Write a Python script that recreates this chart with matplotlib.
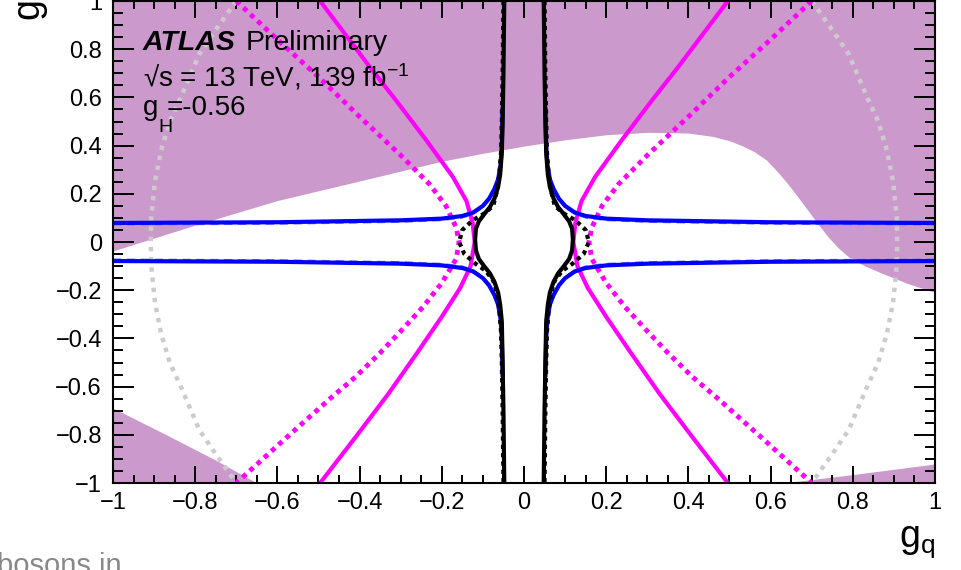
import numpy as np
import matplotlib
matplotlib.use('Agg')
import matplotlib.pyplot as plt

plt.rcParams['font.family'] = ['Liberation Sans', 'DejaVu Sans']
plt.rcParams['mathtext.fontset'] = 'custom'
plt.rcParams['mathtext.rm'] = 'Liberation Sans'
plt.rcParams['mathtext.it'] = 'Liberation Sans:italic'
plt.rcParams['mathtext.bf'] = 'Liberation Sans:bold'

# excluded region (upper band), boundary
excl_x = [-1.0, -0.8, -0.6, -0.42, -0.2, -0.1, 0.0, 0.1, 0.2, 0.3, 0.4, 0.46, 0.5, 0.53, 0.56, 0.59, 0.615, 0.64, 0.665, 0.69, 0.715, 0.74, 0.765, 0.79, 0.83, 0.87, 0.93, 1.0]
excl_y = [-0.037, 0.07, 0.172, 0.245, 0.335, 0.368, 0.398, 0.424, 0.445, 0.455, 0.452, 0.438, 0.42, 0.40, 0.375, 0.34, 0.295, 0.245, 0.19, 0.133, 0.075, 0.021, -0.025, -0.062, -0.10, -0.129, -0.17, -0.21]
# excluded corners at the bottom
ll_x = [-1.0, -0.87, -0.75, -0.65]
ll_y = [-0.689, -0.80, -0.905, -1.0]
lr_x = [0.63, 0.8, 1.0]
lr_y = [-1.0, -0.965, -0.921]

# magenta, left branch (right branch is its mirror)
mag_obs_x = [-0.496, -0.375, -0.312, -0.238, -0.173, -0.14, -0.125, -0.12, -0.13, -0.155, -0.20, -0.26, -0.33, -0.41, -0.496]
mag_obs_y = [1.0, 0.726, 0.589, 0.423, 0.27, 0.17, 0.08, 0.0, -0.1, -0.19, -0.31, -0.46, -0.63, -0.81, -1.0]
mag_exp_x = [-0.70, -0.60, -0.50, -0.40, -0.30, -0.23, -0.19, -0.165, -0.158, -0.165, -0.20, -0.246, -0.30, -0.35, -0.41, -0.472, -0.59, -0.70]
mag_exp_y = [1.0, 0.84, 0.685, 0.52, 0.36, 0.24, 0.15, 0.06, 0.0, -0.07, -0.17, -0.27, -0.37, -0.46, -0.56, -0.65, -0.83, -1.0]

# blue, upper-left branch (others mirrored)
blue_obs_x = [-1.0, -0.6, -0.3, -0.2, -0.15, -0.124, -0.1, -0.085, -0.072, -0.063, -0.057, -0.054, -0.052]
blue_obs_y = [0.079, 0.082, 0.09, 0.097, 0.108, 0.122, 0.15, 0.18, 0.22, 0.26, 0.32, 0.4, 0.55]
blue_exp_x = [-1.0, -0.6, -0.3, -0.2, -0.15, -0.124, -0.1, -0.085, -0.072, -0.063, -0.057, -0.054, -0.052]
blue_exp_y = [0.074, 0.077, 0.085, 0.092, 0.103, 0.118, 0.146, 0.177, 0.218, 0.26, 0.32, 0.4, 0.55]

# black, left branch
blk_obs_x = [-0.048, -0.05, -0.052, -0.054, -0.058, -0.063, -0.072, -0.083, -0.097, -0.11, -0.117, -0.119, -0.117, -0.11, -0.097, -0.083, -0.072, -0.063, -0.058, -0.054, -0.052, -0.05, -0.048]
blk_obs_y = [1.0, 0.7, 0.5, 0.37, 0.28, 0.228, 0.18, 0.145, 0.115, 0.085, 0.055, 0.01, -0.035, -0.07, -0.1, -0.13, -0.165, -0.21, -0.26, -0.33, -0.5, -0.7, -1.0]
blk_exp_x = [-0.05, -0.052, -0.054, -0.056, -0.06, -0.066, -0.075, -0.095, -0.125, -0.15, -0.158, -0.145, -0.118, -0.093, -0.075, -0.066, -0.06, -0.056, -0.054, -0.052, -0.05]
blk_exp_y = [1.0, 0.7, 0.5, 0.37, 0.28, 0.21, 0.15, 0.12, 0.09, 0.05, 0.0, -0.05, -0.09, -0.12, -0.16, -0.21, -0.28, -0.37, -0.5, -0.7, -1.0]

# grey dotted contour, one quarter (x>0, y>0)
grey_x = [0.70, 0.75, 0.79, 0.835, 0.862, 0.883, 0.898, 0.907, 0.908]
grey_y = [1.0, 0.88, 0.78, 0.6, 0.5, 0.38, 0.25, 0.1, 0.0]

tick_vals = [-1, -0.8, -0.6, -0.4, -0.2, 0, 0.2, 0.4, 0.6, 0.8, 1]
tick_labels = ['\u22121', '\u22120.8', '\u22120.6', '\u22120.4', '\u22120.2', '0', '0.2', '0.4', '0.6', '0.8', '1']

fill_col = '#cc99cc'
mag = '#ff00ff'
blue = '#0000ff'
grey_col = '#cccccc'

fig = plt.figure(figsize=(9.61, 5.70), dpi=100)
ax = fig.add_axes([113/961, 87/570, 822/961, 482/570])

ax.fill_between(excl_x, excl_y, 1.0, color=fill_col, lw=0, zorder=1)
ax.fill_between(ll_x, -1.0, ll_y, color=fill_col, lw=0, zorder=1)
ax.fill_between(lr_x, -1.0, lr_y, color=fill_col, lw=0, zorder=1)

gx = np.array(grey_x)
gy = np.array(grey_y)
grey_rx = np.concatenate([gx, gx[::-1]])
grey_ry = np.concatenate([gy, -gy[::-1]])
for s in [1, -1]:
    ax.plot(s * grey_rx, grey_ry, color=grey_col, lw=3.2, ls=(0, (1, 1.3)), zorder=2)

for s in [1, -1]:
    ax.plot(s * np.array(mag_exp_x), mag_exp_y, color=mag, lw=3.5, ls=(0, (1, 1)), zorder=3)
    ax.plot(s * np.array(mag_obs_x), mag_obs_y, color=mag, lw=3, zorder=3)

for sx in [1, -1]:
    for sy in [1, -1]:
        ax.plot(sx * np.array(blue_exp_x), sy * np.array(blue_exp_y), color='#6f7fff', lw=2, ls=(0, (3, 2)), zorder=4)
        ax.plot(sx * np.array(blue_obs_x), sy * np.array(blue_obs_y), color=blue, lw=3, zorder=4)

for s in [1, -1]:
    ax.plot(s * np.array(blk_exp_x), blk_exp_y, color='black', lw=3, ls=(0, (1, 1)), zorder=5)
    ax.plot(s * np.array(blk_obs_x), blk_obs_y, color='black', lw=3, zorder=5)

ax.set_xlim(-1, 1)
ax.set_ylim(-1, 1)
ax.set_xticks(tick_vals)
ax.set_yticks(tick_vals)
ax.set_xticks(np.arange(-1, 1.01, 0.05), minor=True)
ax.set_yticks(np.arange(-1, 1.01, 0.05), minor=True)
ax.set_xticklabels(tick_labels)
ax.set_yticklabels(tick_labels)
ax.tick_params(axis='both', which='both', direction='in', top=True, right=True, width=1.4, labelsize=17)
ax.tick_params(axis='x', which='major', length=12, pad=6.5)
ax.tick_params(axis='x', which='minor', length=6)
ax.tick_params(axis='y', which='major', length=15, pad=8)
ax.tick_params(axis='y', which='minor', length=7.5)
for sp in ax.spines.values():
    sp.set_linewidth(1.5)
    sp.set_zorder(6)

ax.text(0.0365, 0.898, 'ATLAS', transform=ax.transAxes, fontsize=20.5, fontweight='bold', fontstyle='italic', zorder=7)
ax.text(0.161, 0.898, 'Preliminary', transform=ax.transAxes, fontsize=20.5, zorder=7)
ax.text(0.0365, 0.822, '\u221as = 13 TeV, 139 fb$^{-1}$', transform=ax.transAxes, fontsize=20, zorder=7)
ax.text(0.0365, 0.763, 'g', transform=ax.transAxes, fontsize=20, zorder=7)
ax.text(0.0547, 0.728, 'H', transform=ax.transAxes, fontsize=14, zorder=7)
ax.text(0.0655, 0.763, '=-0.56', transform=ax.transAxes, fontsize=20, zorder=7)

fig.text(935/961, 23/570, 'g$_{\\mathrm{q}}$', ha='right', va='baseline', fontsize=27)
fig.text(40/961, 549/570, 'g$_{\\mathrm{l}}$', ha='left', va='baseline', rotation=90, rotation_mode='anchor', fontsize=27)
fig.text(-3/961, -4/570, 'bosons in', ha='left', va='baseline', fontsize=21, color='#888888')

fig.savefig('out.png', dpi=100)
